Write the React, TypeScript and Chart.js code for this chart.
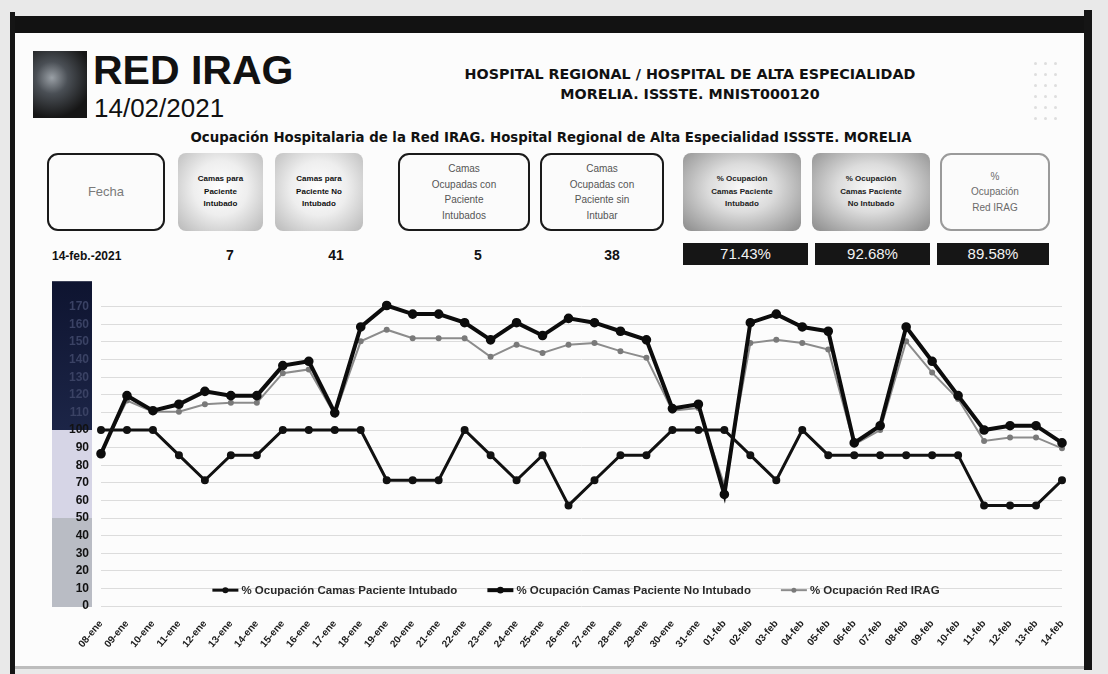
import React, { useEffect, useRef } from "react";
import { Chart, registerables } from "chart.js";

Chart.register(...registerables);

const dates = [
  "08-ene", "09-ene", "10-ene", "11-ene", "12-ene", "13-ene", "14-ene", "15-ene", "16-ene", "17-ene",
  "18-ene", "19-ene", "20-ene", "21-ene", "22-ene", "23-ene", "24-ene", "25-ene", "26-ene", "27-ene",
  "28-ene", "29-ene", "30-ene", "31-ene", "01-feb", "02-feb", "03-feb", "04-feb", "05-feb", "06-feb",
  "07-feb", "08-feb", "09-feb", "10-feb", "11-feb", "12-feb", "13-feb", "14-feb",
];

const intubado = [
  100, 100, 100, 85.71, 71.43, 85.71, 85.71, 100, 100, 100,
  100, 71.43, 71.43, 71.43, 100, 85.71, 71.43, 85.71, 57.14, 71.43,
  85.71, 85.71, 100, 100, 100, 85.71, 71.43, 100, 85.71, 85.71,
  85.71, 85.71, 85.71, 85.71, 57.14, 57.14, 57.14, 71.43,
];

const noIntubado = [
  86.5, 119.51, 110.98, 114.63, 121.95, 119.51, 119.51, 136.59, 139.02, 109.76,
  158.54, 170.73, 165.85, 165.85, 160.98, 151.22, 160.98, 153.66, 163.41, 160.98,
  156.1, 151.22, 112.2, 114.63, 63.41, 160.98, 165.85, 158.54, 156.1, 92.68,
  102.44, 158.54, 139.02, 119.51, 100, 102.44, 102.44, 92.68,
];

const redIrag = [
  87.5, 116.7, 110.4, 110.4, 114.6, 115.5, 115.5, 132.3, 134.4, 108.8,
  150.4, 157, 152.2, 152.2, 152.2, 141.6, 148.5, 143.8, 148.5, 149.4,
  144.8, 141, 111, 112.5, 68.75, 149.4, 151.3, 149.4, 145.7, 91.7,
  100, 150.4, 132.6, 117.6, 93.75, 95.8, 95.8, 89.58,
];

const seriesNames = [
  "% Ocupación Camas Paciente Intubado",
  "% Ocupación Camas Paciente No Intubado",
  "% Ocupación Red IRAG",
];

const headerBoxes = [
  { left: 47, width: 118, kind: "border", lines: ["Fecha"] },
  { left: 178, width: 85, kind: "gray", lines: ["Camas para", "Paciente", "Intubado"] },
  { left: 275, width: 88, kind: "gray", lines: ["Camas para", "Paciente No", "Intubado"] },
  { left: 398, width: 132, kind: "border", lines: ["Camas", "Ocupadas con", "Paciente", "Intubados"] },
  { left: 540, width: 124, kind: "border", lines: ["Camas", "Ocupadas con", "Paciente sin", "Intubar"] },
  { left: 683, width: 118, kind: "dark", lines: ["% Ocupación", "Camas Paciente", "Intubado"] },
  { left: 812, width: 118, kind: "dark", lines: ["% Ocupación", "Camas Paciente", "No Intubado"] },
  { left: 940, width: 110, kind: "light", lines: ["%", "Ocupación", "Red IRAG"] },
];

const fechaValue = "14-feb.-2021";
const countValues = [
  { text: "7", x: 230 },
  { text: "41", x: 336 },
  { text: "5", x: 478 },
  { text: "38", x: 612 },
];
const pctValues = [
  { text: "71.43%", left: 683, width: 125 },
  { text: "92.68%", left: 815, width: 115 },
  { text: "89.58%", left: 937, width: 112 },
];

const FONT = '"Liberation Sans", Arial, sans-serif';
const HEAVY = '"DejaVu Sans", "Liberation Sans", Arial, sans-serif';

const bandPlugin = {
  id: "yband",
  beforeDraw(chart: any) {
    const { ctx } = chart;
    const y = chart.scales.y;
    const left = y.left;
    const right = y.right - 9;
    const top = y.top - 8;
    const p100 = y.getPixelForValue(100);
    const p50 = y.getPixelForValue(50);
    const p0 = y.getPixelForValue(0) + 1;
    ctx.save();
    const g = ctx.createLinearGradient(0, top, 0, p100);
    g.addColorStop(0, "#0e1430");
    g.addColorStop(1, "#1c2547");
    ctx.fillStyle = g;
    ctx.fillRect(left, top, right - left, p100 - top);
    ctx.fillStyle = "#d6d5e6";
    ctx.fillRect(left, p100, right - left, p50 - p100);
    ctx.fillStyle = "#b9bcc4";
    ctx.fillRect(left, p50, right - left, p0 - p50);
    ctx.restore();
  },
};

const legendPlugin = {
  id: "insideLegend",
  afterDraw(chart: any) {
    const { ctx } = chart;
    const ds = chart.data.datasets;
    const yPix = chart.scales.y.getPixelForValue(9);
    ctx.save();
    ctx.font = `bold 11.5px ${FONT}`;
    const lineLen = 26;
    const gapTxt = 3;
    const gap = 30;
    const widths = ds.map((d: any) => ctx.measureText(d.label).width);
    const total = widths.reduce((a: number, w: number) => a + lineLen + gapTxt + w, 0) + gap * (ds.length - 1);
    let x = 576 - 52 - total / 2;
    ds.forEach((d: any, i: number) => {
      ctx.strokeStyle = d.borderColor;
      ctx.lineWidth = d.borderWidth;
      ctx.beginPath();
      ctx.moveTo(x, yPix);
      ctx.lineTo(x + lineLen, yPix);
      ctx.stroke();
      ctx.fillStyle = d.pointBackgroundColor;
      ctx.beginPath();
      ctx.arc(x + lineLen / 2, yPix, d.pointRadius + 0.5, 0, Math.PI * 2);
      ctx.fill();
      ctx.fillStyle = "#2a2a2a";
      ctx.textBaseline = "middle";
      ctx.textAlign = "left";
      ctx.fillText(d.label, x + lineLen + gapTxt, yPix + 0.5);
      x += lineLen + gapTxt + widths[i] + gap;
    });
    ctx.restore();
  },
};

function ChartBox() {
  const ref = useRef<HTMLCanvasElement | null>(null);
  useEffect(() => {
    if (!ref.current) return;
    const chart = new Chart(ref.current, {
      type: "line",
      data: {
        labels: dates,
        datasets: [
          {
            label: seriesNames[0],
            data: intubado,
            borderColor: "#111",
            backgroundColor: "#111",
            pointBackgroundColor: "#111",
            pointBorderColor: "#111",
            borderWidth: 3,
            pointRadius: 2.5,
            tension: 0,
          },
          {
            label: seriesNames[1],
            data: noIntubado,
            borderColor: "#0c0c0c",
            backgroundColor: "#0c0c0c",
            pointBackgroundColor: "#0c0c0c",
            pointBorderColor: "#0c0c0c",
            borderWidth: 4,
            pointRadius: 2.8,
            tension: 0,
          },
          {
            label: seriesNames[2],
            data: redIrag,
            borderColor: "#8c8c8c",
            backgroundColor: "#8c8c8c",
            pointBackgroundColor: "#7a7a7a",
            pointBorderColor: "#7a7a7a",
            borderWidth: 2,
            pointRadius: 2,
            tension: 0,
          },
        ],
      },
      options: {
        responsive: false,
        animation: false,
        devicePixelRatio: 1,
        layout: { padding: { top: 15.6, right: 20, left: 0, bottom: 0 } },
        plugins: {
          legend: { display: false },
          tooltip: { enabled: false },
          title: { display: false },
        },
        scales: {
          x: {
            offset: false,
            grid: { display: false },
            border: { display: false },
            ticks: {
              autoSkip: false,
              maxRotation: 50,
              minRotation: 50,
              color: "#1a1a1a",
              font: { family: FONT, size: 10, weight: "bold" },
              padding: 4,
            },
            afterFit(scale: any) {
              scale.height = 59;
            },
          },
          y: {
            min: 0,
            max: 180,
            grid: {
              color: (c: any) => (c.tick && c.tick.value === 180 ? "rgba(0,0,0,0)" : "#dcdcdc"),
              lineWidth: 1,
              drawTicks: false,
            },
            border: { display: false },
            ticks: {
              stepSize: 10,
              padding: 12,
              color: (c: any) => (c.tick && c.tick.value > 100 ? "#3a4264" : "#111"),
              font: { family: FONT, size: 12, weight: "bold" },
              callback: (v: any) => (v === 180 ? "" : String(v)),
            },
            afterFit(scale: any) {
              scale.width = 49;
            },
          },
        },
      },
      plugins: [bandPlugin, legendPlugin],
    });
    return () => chart.destroy();
  }, []);
  return (
    <canvas
      ref={ref}
      width={1030}
      height={395}
      style={{ position: "absolute", left: 52, top: 270, width: 1030, height: 395 }}
    />
  );
}

function Txt(props: { x: number; top: number; size: number; bold?: boolean; color?: string; center?: boolean; family?: string; children: any }) {
  const { x, top, size, bold, color, center, family, children } = props;
  return (
    <div
      style={{
        position: "absolute",
        left: center ? x - 400 : x,
        width: center ? 800 : undefined,
        textAlign: center ? "center" : "left",
        top,
        fontSize: size,
        lineHeight: 1,
        fontWeight: bold ? 700 : 400,
        color: color || "#111",
        fontFamily: family || FONT,
        whiteSpace: "nowrap",
      }}
    >
      {children}
    </div>
  );
}

function boxStyle(kind: string): any {
  if (kind === "border")
    return { border: "2.5px solid #1a1a1a", background: "#fbfbfb", borderRadius: 11, color: "#555", fontWeight: 400, fontSize: 10 };
  if (kind === "light")
    return { border: "2px solid #9a9a9a", background: "#fbfbfb", borderRadius: 11, color: "#6a6a6a", fontWeight: 400, fontSize: 10 };
  if (kind === "gray")
    return {
      background: "radial-gradient(ellipse at 50% 45%, #ffffff 0%, #eeeeee 45%, #b8b8b8 100%)",
      borderRadius: 8,
      color: "#111",
      fontWeight: 700,
      fontSize: 8,
    };
  return {
    background: "radial-gradient(ellipse at 50% 45%, #fafafa 0%, #dcdcdc 40%, #8a8a8a 100%)",
    borderRadius: 8,
    color: "#222",
    fontWeight: 700,
    fontSize: 8,
  };
}

export default function App() {
  const dots: any[] = [];
  for (let r = 0; r < 6; r++)
    for (let c = 0; c < 3; c++)
      dots.push(
        <div
          key={`${r}-${c}`}
          style={{ position: "absolute", left: 1034 + c * 10, top: 62 + r * 11, width: 3, height: 3, borderRadius: 2, background: "#dedede" }}
        />
      );
  return (
    <div style={{ position: "absolute", left: 0, top: 0, width: 1108, height: 674, background: "#e9e9e9", overflow: "hidden", fontFamily: FONT }}>
      {/* screen */}
      <div style={{ position: "absolute", left: 15, top: 33, width: 1069, height: 635, background: "#fcfcfc" }} />
      <div style={{ position: "absolute", left: 10, top: 16, width: 1082, height: 17, background: "#121212" }} />
      <div style={{ position: "absolute", left: 10, top: 12, width: 5, height: 662, background: "#151515" }} />
      <div style={{ position: "absolute", left: 1084, top: 10, width: 8, height: 660, background: "#151515" }} />
      <div style={{ position: "absolute", left: 15, top: 666, width: 1069, height: 3, background: "#bdbdbd" }} />

      {/* logo */}
      <div
        style={{
          position: "absolute",
          left: 33,
          top: 51,
          width: 54,
          height: 67,
          background: "radial-gradient(circle at 35% 40%, #9aa0a6 0%, #4a4f55 30%, #161616 75%)",
        }}
      />
      <Txt x={93} top={50} size={41} bold>RED IRAG</Txt>
      <Txt x={94} top={95} size={26}>14/02/2021</Txt>

      <Txt x={690} top={67} size={14.3} bold center family={HEAVY}>HOSPITAL REGIONAL / HOSPITAL DE ALTA ESPECIALIDAD</Txt>
      <Txt x={690} top={87} size={14.3} bold center family={HEAVY}>MORELIA. ISSSTE. MNIST000120</Txt>
      {dots}

      <Txt x={551} top={131} size={13.3} bold center family={HEAVY}>
        Ocupación Hospitalaria de la Red IRAG. Hospital Regional de Alta Especialidad ISSSTE. MORELIA
      </Txt>

      {headerBoxes.map((b, i) => {
        const st = boxStyle(b.kind);
        const isFecha = b.lines.length === 1;
        return (
          <div
            key={i}
            style={{
              position: "absolute",
              left: b.left,
              top: 153,
              width: b.width,
              height: 78,
              boxSizing: "border-box",
              display: "flex",
              flexDirection: "column",
              alignItems: "center",
              justifyContent: "center",
              textAlign: "center",
              lineHeight: 1.55,
              ...st,
              fontSize: isFecha ? 13 : st.fontSize,
              color: isFecha ? "#7a7a7a" : st.color,
            }}
          >
            {b.lines.map((l, j) => (
              <div key={j}>{l}</div>
            ))}
          </div>
        );
      })}

      <Txt x={52} top={250} size={12} bold>{fechaValue}</Txt>
      {countValues.map((v, i) => (
        <Txt key={i} x={v.x} top={248} size={14} bold center>{v.text}</Txt>
      ))}
      {pctValues.map((v, i) => (
        <div
          key={i}
          style={{
            position: "absolute",
            left: v.left,
            top: 243,
            width: v.width,
            height: 22,
            background: "#161616",
            color: "#f2f2f2",
            fontSize: 15,
            lineHeight: "22px",
            textAlign: "center",
            fontFamily: FONT,
          }}
        >
          {v.text}
        </div>
      ))}

      <ChartBox />
    </div>
  );
}
